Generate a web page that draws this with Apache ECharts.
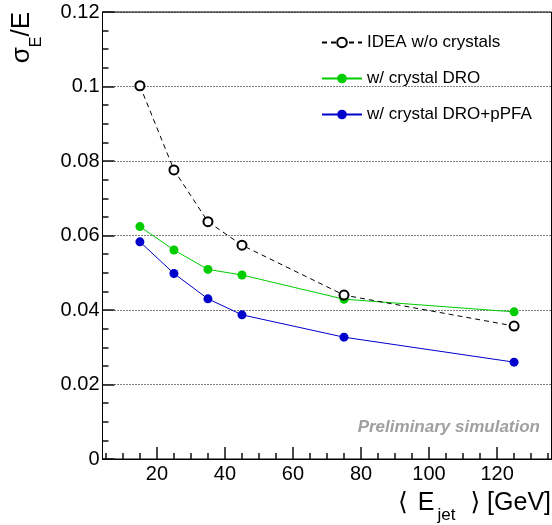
<!DOCTYPE html>
<html>
<head>
<meta charset="utf-8">
<script src="https://cdn.jsdelivr.net/npm/echarts@6/dist/echarts.min.js"></script>
<style>html,body{margin:0;padding:0;background:#fff}#c{width:552px;height:525px}</style>
</head>
<body>
<div id="c"></div>
<script>
const energies = [15, 25, 35, 45, 75, 125];
const ideaNoCrystals = [0.1002, 0.0776, 0.0637, 0.0574, 0.0440, 0.0357];
const crystalDRO = [0.0624, 0.0561, 0.0509, 0.0494, 0.0429, 0.0395];
const crystalDROpPFA = [0.0583, 0.0498, 0.0430, 0.0387, 0.0327, 0.0260];
const seriesNames = ['IDEA w/o crystals', 'w/ crystal DRO', 'w/ crystal DRO+pPFA'];
const xTickLabels = [20, 40, 60, 80, 100, 120];
const xMinorTicks = [5, 10, 15, 20, 25, 30, 35, 40, 45, 50, 55, 60, 65, 70, 75, 80, 85, 90, 95, 100, 105, 110, 115, 120, 125, 130, 135];
const yTickLabels = ['0', '0.02', '0.04', '0.06', '0.08', '0.1', '0.12'];

const FONT = "'Liberation Sans', Arial, Helvetica, 'DejaVu Sans', sans-serif";
const pairs = ys => energies.map((x, i) => [x, ys[i]]);

const chart = echarts.init(document.getElementById('c'), null, {renderer: 'canvas'});
const option = {
  animation: false,
  backgroundColor: '#fff',
  textStyle: {fontFamily: FONT},
  grid: {left: 102.5, top: 12, width: 449, height: 447, show: true, borderColor: '#000', borderWidth: 1, backgroundColor: 'transparent'},
  xAxis: [
    {
      type: 'value', min: 4, max: 136, position: 'bottom',
      axisLine: {show: true, lineStyle: {color: '#000', width: 1}},
      axisTick: {show: true, inside: true, length: 6, customValues: xMinorTicks, lineStyle: {color: '#111', width: 1.5}},
      axisLabel: {show: true, customValues: xTickLabels, fontSize: 20, color: '#000', margin: 5, fontFamily: FONT},
      splitLine: {show: false}
    },
    {
      type: 'value', min: 4, max: 136, position: 'bottom',
      axisLine: {show: false},
      axisTick: {show: true, inside: true, length: 12, customValues: xTickLabels, lineStyle: {color: '#111', width: 1.5}},
      axisLabel: {show: false},
      splitLine: {show: false}
    }
  ],
  yAxis: {
    type: 'value', min: 0, max: 0.12, interval: 0.02,
    axisLine: {show: true, lineStyle: {color: '#000', width: 1}},
    axisTick: {show: true, inside: true, length: 12, lineStyle: {color: '#111', width: 1.5}},
    minorTick: {show: true, splitNumber: 4, length: 6, lineStyle: {color: '#111', width: 1.5}},
    axisLabel: {fontSize: 20, color: '#000', margin: 3, fontFamily: FONT,
      formatter: (v) => yTickLabels[Math.round(v / 0.02)]},
    splitLine: {show: true, lineStyle: {color: '#000', width: 1, type: [1, 2]}}
  },
  legend: {
    orient: 'vertical', left: 316, top: 29,
    itemWidth: 40, itemHeight: 12, itemGap: 19,
    textStyle: {fontSize: 17, color: '#000', fontFamily: FONT},
    data: seriesNames
  },
  series: [
    {
      name: seriesNames[0], type: 'line', data: pairs(ideaNoCrystals),
      symbol: 'emptyCircle', symbolSize: 9,
      itemStyle: {color: '#000', borderColor: '#000', borderWidth: 1},
      lineStyle: {color: '#000', width: 1, type: [5, 4]}, z: 3
    },
    {
      name: seriesNames[1], type: 'line', data: pairs(crystalDRO),
      symbol: 'circle', symbolSize: 9,
      itemStyle: {color: '#00cc00'},
      lineStyle: {color: '#00cc00', width: 1}, z: 2
    },
    {
      name: seriesNames[2], type: 'line', data: pairs(crystalDROpPFA),
      symbol: 'circle', symbolSize: 9,
      itemStyle: {color: '#0000cc'},
      lineStyle: {color: '#0000cc', width: 1}, z: 2
    }
  ],
  graphic: [
    {
      type: 'text', x: 9, y: 12, rotation: Math.PI / 2,
      style: {
        text: '{m|σ}{s|E}{m|/E}', align: 'right', verticalAlign: 'top',
        rich: {
          m: {fontSize: 26, lineHeight: 26, fontFamily: FONT, fill: '#000', verticalAlign: 'top'},
          s: {fontSize: 16, lineHeight: 16, fontFamily: FONT, fill: '#000', padding: [20, 0, 0, 0], verticalAlign: 'top'}
        }
      }
    },
    {
      type: 'text', x: 551, y: 491,
      style: {
        text: '{m|⟨ }{e|E}{s|jet}{m|⟩ [GeV]}', align: 'right', verticalAlign: 'top',
        rich: {
          m: {fontSize: 25, lineHeight: 25, fontFamily: FONT, fill: '#000', verticalAlign: 'top'},
          e: {fontSize: 25, lineHeight: 25, fontFamily: FONT, fill: '#000', verticalAlign: 'top', padding: [0, 0, 0, 3]},
          s: {fontSize: 17, lineHeight: 17, fontFamily: FONT, fill: '#000', padding: [16, 15, 0, 3], verticalAlign: 'top'}
        }
      }
    },
    {
      type: 'text', x: 540, y: 427,
      style: {
        text: 'Preliminary simulation', align: 'right', verticalAlign: 'middle',
        font: "italic bold 17px 'Liberation Sans', Arial, sans-serif", fill: '#a0a0a0'
      }
    }
  ]
};
chart.setOption(option);
</script>
</body>
</html>
